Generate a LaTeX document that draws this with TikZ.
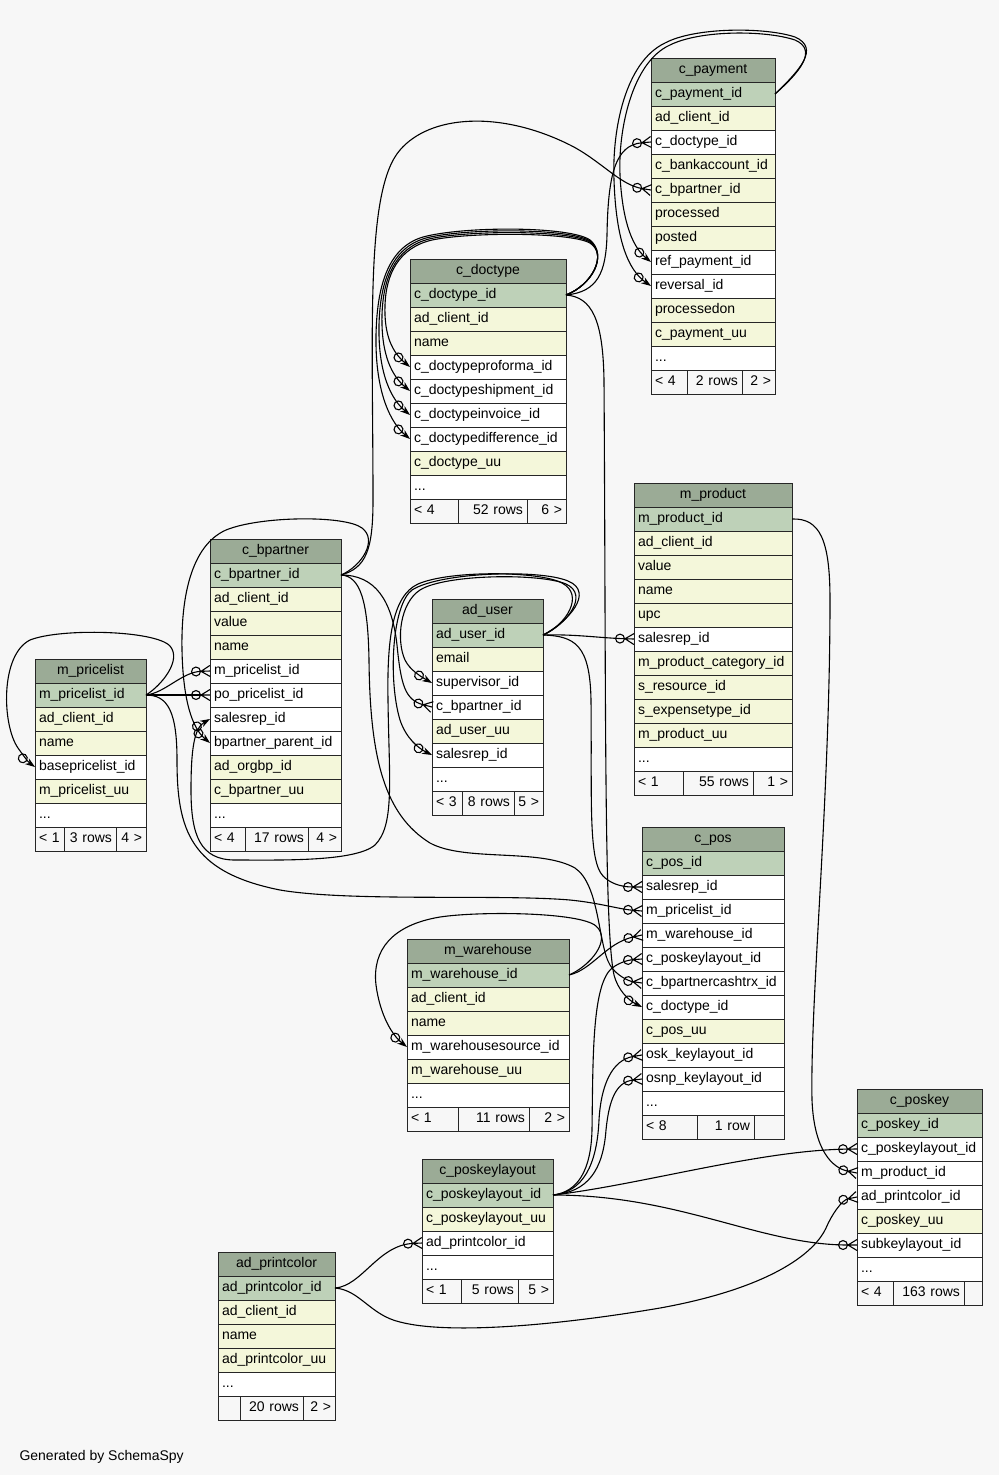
\documentclass[tikz,border=0pt]{standalone}
\usepackage{fontspec}
\setmainfont{Liberation Sans}
\usepackage{tikz}
\usetikzlibrary{positioning, arrows.meta}
\definecolor{headgreen}{HTML}{9BAB96}
\definecolor{keygreen}{HTML}{BED1B8}
\definecolor{colyellow}{HTML}{F4F7DA}
\definecolor{bggray}{HTML}{F7F7F7}

% crow's foot for the "many" end of a key
\pgfdeclarearrow{
  name = Crow,
  setup code = {
    \pgfarrowssettipend{0pt}
    \pgfarrowssetbackend{-9pt}
    \pgfarrowssetlineend{-9pt}
  },
  drawing code = {
    \pgfpathmoveto{\pgfpoint{-9pt}{0pt}}
    \pgfpathlineto{\pgfpoint{0pt}{5.5pt}}
    \pgfpathmoveto{\pgfpoint{-9pt}{0pt}}
    \pgfpathlineto{\pgfpoint{0pt}{0pt}}
    \pgfpathmoveto{\pgfpoint{-9pt}{0pt}}
    \pgfpathlineto{\pgfpoint{0pt}{-5.5pt}}
    \pgfusepathqstroke
  }
}

\begin{document}
\begin{tikzpicture}[
    x=1pt, y=-1pt,
    cell/.style={
        rectangle,
        draw=black!85,
        line width=0.8pt,
        outer sep=0pt,
        inner xsep=4pt,
        inner ysep=0pt,
        minimum height=24pt,
        text height=10pt,
        text depth=3pt,
        align=left,
        font=\fontsize{14}{16}\selectfont
    },
    head/.style={cell, fill=headgreen, align=center},
    pkrow/.style={cell, fill=keygreen},
    colrow/.style={cell, fill=colyellow},
    fkrow/.style={cell, fill=white},
    footl/.style={cell, fill=bggray, text width=#1pt},
    footr/.style={cell, fill=bggray, text width=#1pt, align=right},
    many/.style={line width=1.1pt, -{Circle[open, length=10pt] Crow}},
    one/.style={line width=1.1pt, -{Circle[open, length=10pt] Stealth[length=10pt, width=7pt]}}
]

\path [use as bounding box, fill=bggray] (0,0) rectangle (999,1475);

% Tables
% c_payment
\begin{scope}[every node/.append style={text width=116pt}]
\node (pay) [head, anchor=north west] at (651,58) {c\_payment};
\node (pay1) [pkrow, below=0pt of pay] {c\_payment\_id};
\node (pay2) [colrow, below=0pt of pay1] {ad\_client\_id};
\node (pay3) [fkrow, below=0pt of pay2] {c\_doctype\_id};
\node (pay4) [colrow, below=0pt of pay3] {c\_bankaccount\_id};
\node (pay5) [colrow, below=0pt of pay4] {c\_bpartner\_id};
\node (pay6) [colrow, below=0pt of pay5] {processed};
\node (pay7) [colrow, below=0pt of pay6] {posted};
\node (pay8) [fkrow, below=0pt of pay7] {ref\_payment\_id};
\node (pay9) [fkrow, below=0pt of pay8] {reversal\_id};
\node (pay10) [colrow, below=0pt of pay9] {processedon};
\node (pay11) [colrow, below=0pt of pay10] {c\_payment\_uu};
\node (pay12) [fkrow, below=0pt of pay11] {...};
\node (payf1) [footl=28, anchor=north west] at (pay12.south west) {< 4};
\node (payf2) [footr=47, right=0pt of payf1] {2 rows};
\node (payf3) [footr=25, right=0pt of payf2] {2 >};
\end{scope}

% c_doctype
\begin{scope}[every node/.append style={text width=148pt}]
\node (doc) [head, anchor=north west] at (410,259) {c\_doctype};
\node (doc1) [pkrow, below=0pt of doc] {c\_doctype\_id};
\node (doc2) [colrow, below=0pt of doc1] {ad\_client\_id};
\node (doc3) [colrow, below=0pt of doc2] {name};
\node (doc4) [fkrow, below=0pt of doc3] {c\_doctypeproforma\_id};
\node (doc5) [fkrow, below=0pt of doc4] {c\_doctypeshipment\_id};
\node (doc6) [fkrow, below=0pt of doc5] {c\_doctypeinvoice\_id};
\node (doc7) [fkrow, below=0pt of doc6] {c\_doctypedifference\_id};
\node (doc8) [colrow, below=0pt of doc7] {c\_doctype\_uu};
\node (doc9) [fkrow, below=0pt of doc8] {...};
\node (docf1) [footl=40, anchor=north west] at (doc9.south west) {< 4};
\node (docf2) [footr=61, right=0pt of docf1] {52 rows};
\node (docf3) [footr=31, right=0pt of docf2] {6 >};
\end{scope}

% c_bpartner
\begin{scope}[every node/.append style={text width=123pt}]
\node (bp) [head, anchor=north west] at (210,539) {c\_bpartner};
\node (bp1) [pkrow, below=0pt of bp] {c\_bpartner\_id};
\node (bp2) [colrow, below=0pt of bp1] {ad\_client\_id};
\node (bp3) [colrow, below=0pt of bp2] {value};
\node (bp4) [colrow, below=0pt of bp3] {name};
\node (bp5) [fkrow, below=0pt of bp4] {m\_pricelist\_id};
\node (bp6) [fkrow, below=0pt of bp5] {po\_pricelist\_id};
\node (bp7) [fkrow, below=0pt of bp6] {salesrep\_id};
\node (bp8) [fkrow, below=0pt of bp7] {bpartner\_parent\_id};
\node (bp9) [colrow, below=0pt of bp8] {ad\_orgbp\_id};
\node (bp10) [colrow, below=0pt of bp9] {c\_bpartner\_uu};
\node (bp11) [fkrow, below=0pt of bp10] {...};
\node (bpf1) [footl=27, anchor=north west] at (bp11.south west) {< 4};
\node (bpf2) [footr=55, right=0pt of bpf1] {17 rows};
\node (bpf3) [footr=25, right=0pt of bpf2] {4 >};
\end{scope}

% m_pricelist
\begin{scope}[every node/.append style={text width=103pt}]
\node (pl) [head, anchor=north west] at (35,659) {m\_pricelist};
\node (pl1) [pkrow, below=0pt of pl] {m\_pricelist\_id};
\node (pl2) [colrow, below=0pt of pl1] {ad\_client\_id};
\node (pl3) [colrow, below=0pt of pl2] {name};
\node (pl4) [fkrow, below=0pt of pl3] {basepricelist\_id};
\node (pl5) [colrow, below=0pt of pl4] {m\_pricelist\_uu};
\node (pl6) [fkrow, below=0pt of pl5] {...};
\node (plf1) [footl=21, anchor=north west] at (pl6.south west) {< 1};
\node (plf2) [footr=44, right=0pt of plf1] {3 rows};
\node (plf3) [footr=22, right=0pt of plf2] {4 >};
\end{scope}

% ad_user
\begin{scope}[every node/.append style={text width=103pt}]
\node (au) [head, anchor=north west] at (432,599) {ad\_user};
\node (au1) [pkrow, below=0pt of au] {ad\_user\_id};
\node (au2) [colrow, below=0pt of au1] {email};
\node (au3) [fkrow, below=0pt of au2] {supervisor\_id};
\node (au4) [fkrow, below=0pt of au3] {c\_bpartner\_id};
\node (au5) [colrow, below=0pt of au4] {ad\_user\_uu};
\node (au6) [fkrow, below=0pt of au5] {salesrep\_id};
\node (au7) [fkrow, below=0pt of au6] {...};
\node (auf1) [footl=22, anchor=north west] at (au7.south west) {< 3};
\node (auf2) [footr=44, right=0pt of auf1] {8 rows};
\node (auf3) [footr=21, right=0pt of auf2] {5 >};
\end{scope}

% m_product
\begin{scope}[every node/.append style={text width=150pt}]
\node (prod) [head, anchor=north west] at (634,483) {m\_product};
\node (prod1) [pkrow, below=0pt of prod] {m\_product\_id};
\node (prod2) [colrow, below=0pt of prod1] {ad\_client\_id};
\node (prod3) [colrow, below=0pt of prod2] {value};
\node (prod4) [colrow, below=0pt of prod3] {name};
\node (prod5) [colrow, below=0pt of prod4] {upc};
\node (prod6) [fkrow, below=0pt of prod5] {salesrep\_id};
\node (prod7) [colrow, below=0pt of prod6] {m\_product\_category\_id};
\node (prod8) [colrow, below=0pt of prod7] {s\_resource\_id};
\node (prod9) [colrow, below=0pt of prod8] {s\_expensetype\_id};
\node (prod10) [colrow, below=0pt of prod9] {m\_product\_uu};
\node (prod11) [fkrow, below=0pt of prod10] {...};
\node (prodf1) [footl=41, anchor=north west] at (prod11.south west) {< 1};
\node (prodf2) [footr=62, right=0pt of prodf1] {55 rows};
\node (prodf3) [footr=31, right=0pt of prodf2] {1 >};
\end{scope}

% c_pos
\begin{scope}[every node/.append style={text width=134pt}]
\node (pos) [head, anchor=north west] at (642,827) {c\_pos};
\node (pos1) [pkrow, below=0pt of pos] {c\_pos\_id};
\node (pos2) [fkrow, below=0pt of pos1] {salesrep\_id};
\node (pos3) [fkrow, below=0pt of pos2] {m\_pricelist\_id};
\node (pos4) [fkrow, below=0pt of pos3] {m\_warehouse\_id};
\node (pos5) [fkrow, below=0pt of pos4] {c\_poskeylayout\_id};
\node (pos6) [fkrow, below=0pt of pos5] {c\_bpartnercashtrx\_id};
\node (pos7) [fkrow, below=0pt of pos6] {c\_doctype\_id};
\node (pos8) [colrow, below=0pt of pos7] {c\_pos\_uu};
\node (pos9) [fkrow, below=0pt of pos8] {osk\_keylayout\_id};
\node (pos10) [fkrow, below=0pt of pos9] {osnp\_keylayout\_id};
\node (pos11) [fkrow, below=0pt of pos10] {...};
\node (posf1) [footl=47, anchor=north west] at (pos11.south west) {< 8};
\node (posf2) [footr=49, right=0pt of posf1] {1 row};
\node (posf3) [footr=22, right=0pt of posf2] {};
\end{scope}

% m_warehouse
\begin{scope}[every node/.append style={text width=154pt}]
\node (wh) [head, anchor=north west] at (407,939) {m\_warehouse};
\node (wh1) [pkrow, below=0pt of wh] {m\_warehouse\_id};
\node (wh2) [colrow, below=0pt of wh1] {ad\_client\_id};
\node (wh3) [colrow, below=0pt of wh2] {name};
\node (wh4) [fkrow, below=0pt of wh3] {m\_warehousesource\_id};
\node (wh5) [colrow, below=0pt of wh4] {m\_warehouse\_uu};
\node (wh6) [fkrow, below=0pt of wh5] {...};
\node (whf1) [footl=43, anchor=north west] at (wh6.south west) {< 1};
\node (whf2) [footr=63, right=0pt of whf1] {11 rows};
\node (whf3) [footr=32, right=0pt of whf2] {2 >};
\end{scope}

% c_poskeylayout
\begin{scope}[every node/.append style={text width=123pt}]
\node (lay) [head, anchor=north west] at (422,1159) {c\_poskeylayout};
\node (lay1) [pkrow, below=0pt of lay] {c\_poskeylayout\_id};
\node (lay2) [colrow, below=0pt of lay1] {c\_poskeylayout\_uu};
\node (lay3) [fkrow, below=0pt of lay2] {ad\_printcolor\_id};
\node (lay4) [fkrow, below=0pt of lay3] {...};
\node (layf1) [footl=31, anchor=north west] at (lay4.south west) {< 1};
\node (layf2) [footr=49, right=0pt of layf1] {5 rows};
\node (layf3) [footr=27, right=0pt of layf2] {5 >};
\end{scope}

% ad_printcolor
\begin{scope}[every node/.append style={text width=109pt}]
\node (pc) [head, anchor=north west] at (218,1252) {ad\_printcolor};
\node (pc1) [pkrow, below=0pt of pc] {ad\_printcolor\_id};
\node (pc2) [colrow, below=0pt of pc1] {ad\_client\_id};
\node (pc3) [colrow, below=0pt of pc2] {name};
\node (pc4) [colrow, below=0pt of pc3] {ad\_printcolor\_uu};
\node (pc5) [fkrow, below=0pt of pc4] {...};
\node (pcf1) [footl=14, anchor=north west] at (pc5.south west) {};
\node (pcf2) [footr=55, right=0pt of pcf1] {20 rows};
\node (pcf3) [footr=24, right=0pt of pcf2] {2 >};
\end{scope}

% c_poskey
\begin{scope}[every node/.append style={text width=117pt}]
\node (key) [head, anchor=north west] at (857,1089) {c\_poskey};
\node (key1) [pkrow, below=0pt of key] {c\_poskey\_id};
\node (key2) [fkrow, below=0pt of key1] {c\_poskeylayout\_id};
\node (key3) [fkrow, below=0pt of key2] {m\_product\_id};
\node (key4) [fkrow, below=0pt of key3] {ad\_printcolor\_id};
\node (key5) [colrow, below=0pt of key4] {c\_poskey\_uu};
\node (key6) [fkrow, below=0pt of key5] {subkeylayout\_id};
\node (key7) [fkrow, below=0pt of key6] {...};
\node (keyf1) [footl=28, anchor=north west] at (key7.south west) {< 4};
\node (keyf2) [footr=63, right=0pt of keyf1] {163 rows};
\node (keyf3) [footr=10, right=0pt of keyf2] {};
\end{scope}

\node (credit) [anchor=base west, font=\fontsize{14}{16}\selectfont] at (16,1460) {Generated by SchemaSpy};

% Connections
% c_payment
\draw [many] (doc1.east) .. controls (598,292) and (606,272) .. (607,235) .. controls (608,175) and (615,145) .. (pay3.west);
\draw [many] (bp1.east) .. controls (366,568) and (373,550) .. (373,500) .. controls (373,330) and (365,190) .. (400,150) .. controls (430,115) and (500,110) .. (570,145) .. controls (600,160) and (620,185) .. (pay5.west);
\draw [one] (pay1.east) .. controls (800,72) and (818,50) .. (795,40) .. controls (765,30) and (700,30) .. (670,45) .. controls (632,62) and (618,130) .. (620,175) .. controls (622,215) and (630,245) .. (pay8.west);
\draw [one] (pay1.east) .. controls (800,70) and (820,48) .. (795,37) .. controls (765,27) and (695,27) .. (665,43) .. controls (625,62) and (612,130) .. (614,180) .. controls (616,240) and (628,270) .. (pay9.west);

% c_doctype
\draw [one] (doc1.east) .. controls (592,285) and (608,255) .. (590,243) .. controls (570,232) and (470,232) .. (432,240) .. controls (398,248) and (386,275) .. (385,305) .. controls (384,335) and (392,352) .. (doc4.west);
\draw [one] (doc1.east) .. controls (592,285) and (608,255) .. (590,242) .. controls (570,230) and (468,230) .. (429,239) .. controls (394,248) and (383,280) .. (382,315) .. controls (381,355) and (392,376) .. (doc5.west);
\draw [one] (doc1.east) .. controls (592,285) and (608,255) .. (590,241) .. controls (570,228) and (466,228) .. (426,238) .. controls (390,248) and (380,285) .. (379,325) .. controls (378,375) and (392,400) .. (doc6.west);
\draw [one] (doc1.east) .. controls (592,285) and (608,255) .. (590,240) .. controls (570,226) and (464,226) .. (423,237) .. controls (386,248) and (377,290) .. (376,335) .. controls (375,395) and (392,424) .. (doc7.west);
\draw [one] (doc1.east) .. controls (592,297) and (603,320) .. (604,380) .. controls (606,700) and (604,930) .. (614,975) .. controls (618,990) and (628,1000) .. (pos7.west);

% c_bpartner
\draw [one] (bp1.east) .. controls (362,566) and (378,540) .. (362,528) .. controls (345,515) and (260,516) .. (226,530) .. controls (190,546) and (181,600) .. (182,650) .. controls (183,700) and (192,728) .. (bp8.west);
\draw [one] (au1.east) .. controls (566,625) and (585,595) .. (562,583) .. controls (540,571) and (450,570) .. (418,584) .. controls (392,596) and (387,640) .. (388,700) .. controls (389,780) and (395,825) .. (375,845) .. controls (355,862) and (280,860) .. (235,860) .. controls (200,860) and (191,835) .. (191,790) .. controls (191,750) and (194,728) .. (bp7.west);
\draw [many] (bp1.east) .. controls (375,575) and (392,600) .. (397,645) .. controls (401,685) and (405,700) .. (au4.west);
\draw [many] (bp1.east) .. controls (360,576) and (368,600) .. (369,660) .. controls (370,760) and (385,815) .. (430,843) .. controls (465,862) and (540,848) .. (575,868) .. controls (600,885) and (598,945) .. (610,965) .. controls (616,975) and (628,981) .. (pos6.west);

% ad_user
\draw [one] (au1.east) .. controls (566,625) and (590,595) .. (566,584) .. controls (540,573) and (445,574) .. (420,590) .. controls (400,603) and (396,640) .. (405,660) .. controls (410,670) and (420,676) .. (au3.west);
\draw [one] (au1.east) .. controls (568,622) and (595,592) .. (568,581) .. controls (540,569) and (440,572) .. (412,590) .. controls (392,605) and (388,680) .. (400,720) .. controls (406,738) and (418,748) .. (au6.west);
\draw [many] (au1.east) .. controls (575,634) and (600,638) .. (prod6.west);
\draw [many] (au1.east) .. controls (575,636) and (590,645) .. (591,700) .. controls (592,800) and (588,860) .. (603,876) .. controls (610,883) and (620,887) .. (pos2.west);

% m_pricelist
\draw [many] (pl1.east) .. controls (165,693) and (182,672) .. (bp5.west);
\draw [many] (pl1.east) -- (bp6.west);
\draw [one] (pl1.east) .. controls (162,685) and (182,660) .. (170,646) .. controls (155,630) and (60,628) .. (30,640) .. controls (0,655) and (2,725) .. (18,748) .. controls (23,755) and (28,762) .. (pl4.west);
\draw [many] (pl1.east) .. controls (168,695) and (177,712) .. (177,760) .. controls (177,830) and (190,872) .. (280,890) .. controls (350,902) and (500,894) .. (570,900) .. controls (600,903) and (618,909) .. (pos3.west);

% m_warehouse
\draw [many] (wh1.east) .. controls (592,970) and (606,943) .. (pos4.west);
\draw [one] (wh1.east) .. controls (590,966) and (612,940) .. (596,926) .. controls (580,912) and (480,911) .. (440,917) .. controls (392,925) and (372,950) .. (376,985) .. controls (380,1015) and (392,1035) .. (wh4.west);

% c_poskeylayout
\draw [many] (lay1.east) .. controls (578,1192) and (591,1170) .. (592,1130) .. controls (593,1060) and (592,990) .. (610,970) .. controls (617,963) and (628,960) .. (pos5.west);
\draw [many] (lay1.east) .. controls (583,1192) and (597,1165) .. (599,1120) .. controls (601,1085) and (612,1060) .. (pos9.west);
\draw [many] (lay1.east) .. controls (588,1192) and (603,1170) .. (606,1130) .. controls (609,1100) and (616,1082) .. (pos10.west);
\draw [many] (lay1.east) .. controls (640,1185) and (760,1150) .. (key2.west);
\draw [many] (lay1.east) .. controls (680,1195) and (760,1245) .. (key6.west);

% ad_printcolor and m_product
\draw [many] (pc1.east) .. controls (362,1286) and (378,1245) .. (lay3.west);
\draw [many] (pc1.east) .. controls (360,1290) and (370,1315) .. (400,1322) .. controls (450,1335) and (560,1325) .. (660,1308) .. controls (760,1290) and (812,1258) .. (826,1228) .. controls (832,1214) and (842,1200) .. (key4.west);
\draw [many] (prod1.east) .. controls (820,518) and (830,540) .. (830,600) .. controls (830,800) and (810,1000) .. (812,1100) .. controls (814,1150) and (832,1168) .. (key3.west);

\end{tikzpicture}
\end{document}
